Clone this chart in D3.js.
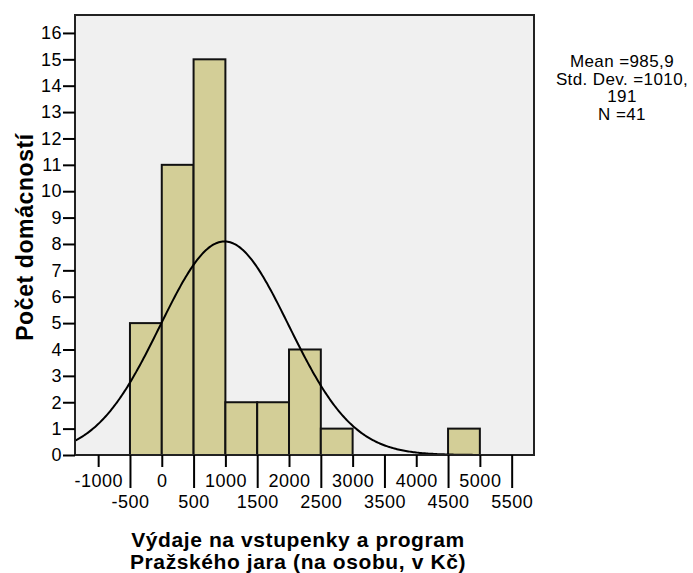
<!DOCTYPE html>
<html>
<head>
<meta charset="utf-8">
<script src="https://cdn.jsdelivr.net/npm/d3@7"></script>
<style>
  body { margin: 0; background: #fff; }
  text { font-family: Arial, "Liberation Sans", sans-serif; }
</style>
</head>
<body>
<div></div>
<script>
// histogram bins (lower edge, width 500) and counts
var binStarts = [-500, 0, 500, 1000, 1500, 2000, 2500, 3000, 3500, 4000, 4500];
var counts = [5, 11, 15, 2, 2, 4, 1, 0, 0, 0, 1];
var binWidth = 500;

// axis ticks
var yTicks = d3.range(0, 17);
var xTicksMajor = [-1000, 0, 1000, 2000, 3000, 4000, 5000];
var xTicksEdge = [-500, 500, 1500, 2500, 3500, 4500, 5500];

// summary stats shown in legend
var mean = 985.9, stdDev = 1010.191, n = 41;
var legendLines = ["Mean =985,9", "Std. Dev. =1010,", "191", "N =41"];

var plotLeft = 75, plotTop = 15, plotRight = 534, plotBottom = 455;

var svg = d3.select("div").append("svg").attr("width", 693).attr("height", 573);

var x = d3.scaleLinear().domain([-1364, 5851]).range([plotLeft, plotRight]);
var y = d3.scaleLinear().domain([0, 16.68]).range([plotBottom, plotTop]);

// plot background
svg.append("rect")
  .attr("x", plotLeft).attr("y", plotTop)
  .attr("width", plotRight - plotLeft).attr("height", plotBottom - plotTop)
  .attr("fill", "#f0f0f0");

// bars
svg.selectAll("rect.bar")
  .data(binStarts.map(function(b, i) { return { x0: b, count: counts[i] }; }).filter(function(d) { return d.count > 0; }))
  .enter()
  .append("rect")
  .attr("class", "bar")
  .attr("x", function(d) { return x(d.x0); })
  .attr("y", function(d) { return y(d.count); })
  .attr("width", function(d) { return x(d.x0 + binWidth) - x(d.x0); })
  .attr("height", function(d) { return y(0) - y(d.count); })
  .attr("fill", "#d3ce97")
  .attr("stroke", "#111")
  .attr("stroke-width", 2);

// normal curve from mean / sd / N
var xs = d3.range(x.domain()[0], x.domain()[1] + 1, 20);
var scaleFactor = n * binWidth / (stdDev * Math.sqrt(2 * Math.PI));
var line = d3.line()
  .x(function(v) { return x(v); })
  .y(function(v) { var z = (v - mean) / stdDev; return y(scaleFactor * Math.exp(-0.5 * z * z)); });
svg.append("path")
  .datum(xs)
  .attr("d", line)
  .attr("fill", "none")
  .attr("stroke", "#000")
  .attr("stroke-width", 2);

// frame
svg.append("rect")
  .attr("x", plotLeft).attr("y", plotTop)
  .attr("width", plotRight - plotLeft).attr("height", plotBottom - plotTop)
  .attr("fill", "none")
  .attr("stroke", "#222")
  .attr("stroke-width", 2);

var plain = function(d) { return String(d); };

function styleTicks(g) {
  g.select(".domain").remove();
  g.selectAll("line").attr("stroke", "#000").attr("stroke-width", 2);
  g.selectAll("text").attr("font-size", 18).attr("fill", "#000")
    .attr("letter-spacing", 0.5)
    .attr("font-family", "Arial, 'Liberation Sans', sans-serif");
}

// y axis
var yAxis = d3.axisLeft(y).tickValues(yTicks).tickFormat(plain).tickSize(12).tickSizeOuter(0).tickPadding(1);
var gy = svg.append("g").attr("transform", "translate(" + plotLeft + ",0)").call(yAxis);
styleTicks(gy);

// x axis: short ticks with labels, long ticks at bin edges with lower labels
var gx1 = svg.append("g").attr("transform", "translate(0," + plotBottom + ")")
  .call(d3.axisBottom(x).tickValues(xTicksMajor).tickFormat(plain).tickSize(12).tickSizeOuter(0).tickPadding(7));
var gx2 = svg.append("g").attr("transform", "translate(0," + plotBottom + ")")
  .call(d3.axisBottom(x).tickValues(xTicksEdge).tickFormat(plain).tickSize(33).tickSizeOuter(0).tickPadding(7));
styleTicks(gx1);
styleTicks(gx2);

// axis titles
svg.append("text")
  .attr("transform", "translate(33,237) rotate(-90)")
  .attr("text-anchor", "middle")
  .attr("font-size", 23)
  .attr("letter-spacing", 0.6)
  .attr("font-weight", "bold")
  .text("Počet domácností");

svg.selectAll("text.xtitle")
  .data(["Výdaje na vstupenky a program", "Pražského jara (na osobu, v Kč)"])
  .enter()
  .append("text")
  .attr("class", "xtitle")
  .attr("x", 298)
  .attr("y", function(d, i) { return 547 + i * 22; })
  .attr("text-anchor", "middle")
  .attr("font-size", 21)
  .attr("letter-spacing", 0.6)
  .attr("font-weight", "bold")
  .text(function(d) { return d; });

// legend text
svg.selectAll("text.legend")
  .data(legendLines)
  .enter()
  .append("text")
  .attr("class", "legend")
  .attr("x", 622)
  .attr("y", function(d, i) { return 67 + i * 17.7; })
  .attr("text-anchor", "middle")
  .attr("font-size", 17)
  .attr("letter-spacing", 0.4)
  .text(function(d) { return d; });
</script>
</body>
</html>
